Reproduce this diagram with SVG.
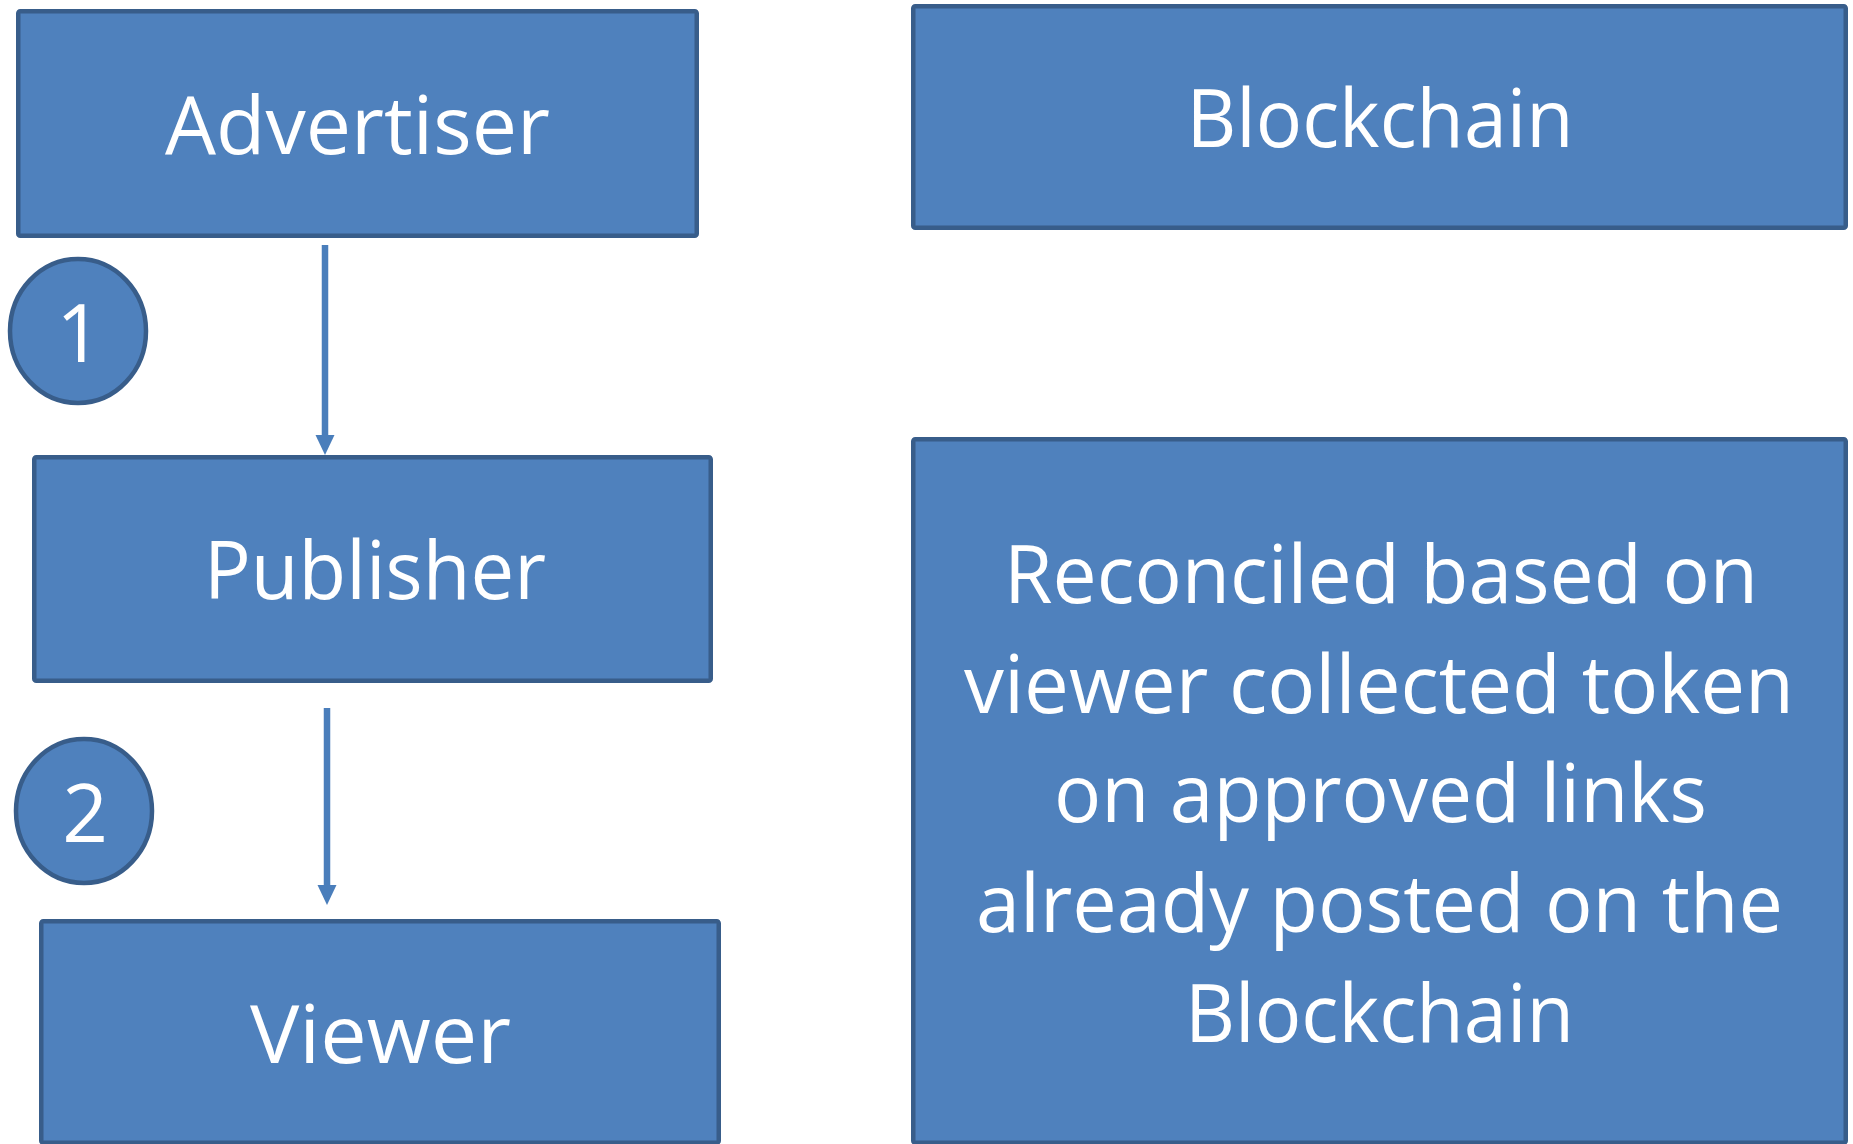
<svg xmlns="http://www.w3.org/2000/svg" width="1853" height="1144" viewBox="0 0 1853 1144">
  <defs>
    <style>
      .box { fill: #4F81BD; stroke: #385D8A; stroke-width: 4.5; }
      .step { fill: #4F81BD; stroke: #385D8A; stroke-width: 4.5; }
      .lbl { fill: #FFFFFF; font-family: "Open Sans", "Noto Sans", "Liberation Sans", sans-serif; font-size: 81px; text-anchor: middle; }
      .num { fill: #FFFFFF; font-family: "Open Sans", "Noto Sans", "Liberation Sans", sans-serif; font-size: 80px; text-anchor: middle; }
      .link { stroke: #4A7EBB; stroke-width: 6.5; fill: none; }
      .head { fill: #4A7EBB; }
    </style>
  </defs>
  <rect width="1853" height="1144" fill="#FFFFFF"/>

  <!-- actors on the left -->
  <g id="advertiser">
    <rect class="box" x="18.25" y="11.25" width="678.5" height="224.5" rx="2"/>
    <text class="lbl" x="357.5" y="154" textLength="385" lengthAdjust="spacingAndGlyphs">Advertiser</text>
  </g>
  <g id="publisher">
    <rect class="box" x="34.25" y="457.25" width="676.5" height="223.5" rx="2"/>
    <text class="lbl" x="375" y="599" textLength="342" lengthAdjust="spacingAndGlyphs">Publisher</text>
  </g>
  <g id="viewer">
    <rect class="box" x="41.25" y="921.25" width="677.5" height="221.5" rx="2"/>
    <text class="lbl" x="380.5" y="1063" textLength="261" lengthAdjust="spacingAndGlyphs">Viewer</text>
  </g>

  <!-- step markers -->
  <g id="step-1">
    <ellipse class="step" cx="78" cy="331" rx="68" ry="72"/>
    <text class="num" x="79" y="362">1</text>
  </g>
  <g id="step-2">
    <ellipse class="step" cx="84" cy="811" rx="68" ry="72"/>
    <text class="num" x="85" y="842">2</text>
  </g>

  <!-- ledger side -->
  <g id="blockchain">
    <rect class="box" x="913.25" y="6.25" width="932.5" height="221.5" rx="2"/>
    <text class="lbl" x="1380" y="147" textLength="387" lengthAdjust="spacingAndGlyphs">Blockchain</text>
  </g>
  <g id="reconciliation">
    <rect class="box" x="913.25" y="439.25" width="932.5" height="703.5" rx="2"/>
    <text class="lbl" x="1381" y="603" textLength="754" lengthAdjust="spacingAndGlyphs">Reconciled based on</text>
    <text class="lbl" x="1379" y="713" textLength="830" lengthAdjust="spacingAndGlyphs">viewer collected token</text>
    <text class="lbl" x="1380.5" y="822" textLength="653" lengthAdjust="spacingAndGlyphs">on approved links</text>
    <text class="lbl" x="1379.5" y="932" textLength="807" lengthAdjust="spacingAndGlyphs">already posted on the</text>
    <text class="lbl" x="1379.5" y="1042" textLength="389" lengthAdjust="spacingAndGlyphs">Blockchain</text>
  </g>

  <!-- connectors -->
  <g id="connectors">
    <line class="link" x1="325" y1="245" x2="325" y2="438"/>
    <polygon class="head" points="315.5,435 334.5,435 325,455"/>
    <line class="link" x1="327" y1="708" x2="327" y2="888"/>
    <polygon class="head" points="317.5,885 336.5,885 327,905"/>
  </g>
</svg>
